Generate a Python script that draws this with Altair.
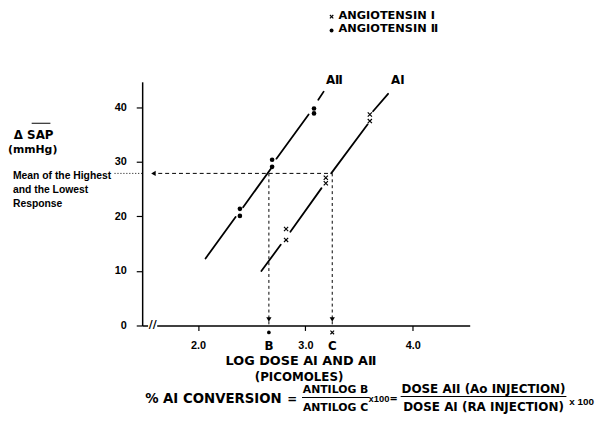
import altair as alt
import pandas as pd

# ---------------- data ----------------
# Angiotensin II responses (dots)
aii_x = [2.39, 2.39, 2.69, 2.69, 3.08, 3.08]
aii_y = [21.4, 20.1, 30.4, 29.1, 39.8, 38.9]
# Angiotensin I responses (crosses)
ai_x = [2.82, 2.82, 3.19, 3.19, 3.60, 3.60]
ai_y = [17.7, 15.7, 27.1, 26.1, 38.7, 37.5]

# dose-response line pieces (broken around the points)
aii_seg_x0 = [2.07, 2.42, 2.73, 3.12]
aii_seg_y0 = [12.3, 21.7, 30.6, 41.4]
aii_seg_x1 = [2.35, 2.68, 3.03, 3.17]
aii_seg_y1 = [19.9, 28.8, 38.7, 42.9]
ai_seg_x0 = [2.59, 2.86, 3.24, 3.63]
ai_seg_y0 = [10.0, 17.2, 27.9, 39.3]
ai_seg_x1 = [2.77, 3.15, 3.58, 3.77]
ai_seg_y1 = [14.8, 25.2, 36.9, 42.5]

log_b = 2.66
log_c = 3.25
mean_response = 27.9
guide_start = 1.63
arrow_left_x = 1.585
break_x = 1.578

x_ticks = [2.0, 3.0, 4.0]
y_ticks = [0, 10, 20, 30, 40]
x_domain = [1.48, 4.53]
y_domain = [0, 44.7]

line_labels = ["A\u2161", "A\u2160"]
line_label_x = [3.27, 3.86]
line_label_y = [45.1, 45.1]

XMARK = "M-1,-1L1,1M-1,1L1,-1"

# ---------------- tables ----------------
pts_aii = pd.DataFrame({"x": aii_x, "y": aii_y})
pts_ai = pd.DataFrame({"x": ai_x, "y": ai_y})
segs = pd.DataFrame({
    "x0": aii_seg_x0 + ai_seg_x0,
    "y0": aii_seg_y0 + ai_seg_y0,
    "x1": aii_seg_x1 + ai_seg_x1,
    "y1": aii_seg_y1 + ai_seg_y1,
})
vref = pd.DataFrame({"x": [log_b, log_c], "y": [mean_response] * 2, "y0": [0, 0],
                     "ya": [1.1, 1.1], "lab": ["B", "C"]})
href = pd.DataFrame({"x0": [guide_start], "x1": [log_c], "y": [mean_response],
                     "xa": [arrow_left_x]})
brk = pd.DataFrame({"x0": [1.535], "x1": [1.62], "y": [0], "xb": [break_x]})
lbl = pd.DataFrame({"x": line_label_x, "y": line_label_y, "t": line_labels})
one = pd.DataFrame({"a": [0]})

xs = alt.Scale(domain=x_domain, nice=False, zero=False)
ys = alt.Scale(domain=y_domain, nice=False, zero=False)
common = dict(title=None, grid=False, domainColor="black", domainWidth=1.5,
              tickColor="black", tickWidth=1.2, labelColor="black",
              labelFont="Liberation Sans", labelFontSize=11, labelFontWeight="bold")
xaxis = alt.Axis(values=x_ticks, format=".1f", tickSize=5, labelPadding=9, **common)
yaxis = alt.Axis(values=y_ticks, tickSize=6, labelPadding=10, **common)


def X(f):
    return alt.X(f, type="quantitative", scale=xs, axis=xaxis)


def Y(f):
    return alt.Y(f, type="quantitative", scale=ys, axis=yaxis)


def label(text, x, y, size=12, font="DejaVu Sans", weight="bold", align="center"):
    return alt.Chart(one).mark_text(
        text=text, fontSize=size, font=font, fontWeight=weight, align=align,
        baseline="middle", color="black"
    ).encode(x=alt.value(x), y=alt.value(y))


def hbar(x0, x1, y, w=1.2):
    return alt.Chart(one).mark_rule(color="black", strokeWidth=w).encode(
        x=alt.value(x0), x2=alt.value(x1), y=alt.value(y))


lines = alt.Chart(segs).mark_rule(color="black", strokeWidth=1.8, strokeCap="round").encode(
    x=X("x0"), y=Y("y0"), x2="x1", y2="y1")
dots = alt.Chart(pts_aii).mark_point(shape="circle", filled=True, size=22, color="black",
                                     opacity=1).encode(x=X("x"), y=Y("y"))
crosses = alt.Chart(pts_ai).mark_point(shape=XMARK, filled=False, size=18, strokeWidth=1.2,
                                       color="black", opacity=1).encode(x=X("x"), y=Y("y"))

vlines = alt.Chart(vref).mark_rule(color="black", strokeWidth=1, strokeDash=[3, 3]).encode(
    x=X("x"), y=Y("y"), y2="y0")
varrows = alt.Chart(vref).mark_point(shape="triangle-down", filled=True, size=28,
                                     color="black", opacity=1).encode(x=X("x"), y=Y("ya"))
hline = alt.Chart(href).mark_rule(color="black", strokeWidth=1, strokeDash=[4, 3]).encode(
    x=X("x0"), x2="x1", y=Y("y"))
hdots = alt.Chart(href).mark_rule(color="black", strokeWidth=1, strokeDash=[1, 2]).encode(
    x=alt.value(-28), x2=alt.value(0), y=Y("y"))
harrow = alt.Chart(href).mark_point(shape="triangle-left", filled=True, size=28,
                                    color="black", opacity=1).encode(x=X("xa"), y=Y("y"))
brk_white = alt.Chart(brk).mark_rule(color="white", strokeWidth=4).encode(
    x=X("x0"), x2="x1", y=Y("y"))
brk_text = alt.Chart(brk).mark_text(text="//", fontSize=11, font="DejaVu Sans",
                                    fontWeight="bold", color="black").encode(
    x=X("xb"), y=Y("y"))

b_dot = alt.Chart(vref.iloc[[0]]).mark_point(shape="circle", filled=True, size=14,
                                             color="black", opacity=1).encode(
    x=X("x"), y=alt.value(254))
c_cross = alt.Chart(vref.iloc[[1]]).mark_point(shape=XMARK, filled=False, size=14,
                                               strokeWidth=1.1, color="black",
                                               opacity=1).encode(
    x=X("x"), y=alt.value(254))
bc_text = alt.Chart(vref).mark_text(fontSize=12, font="DejaVu Sans", fontWeight="bold",
                                    color="black").encode(
    x=X("x"), y=alt.value(268), text="lab:N")
line_text = alt.Chart(lbl).mark_text(fontSize=12, font="DejaVu Sans", fontWeight="bold",
                                     color="black").encode(
    x=X("x"), y=Y("y"), text="t:N")

# legend (drawn as text at the top right)
legend = [
    alt.Chart(one).mark_point(shape=XMARK, filled=False, size=12, strokeWidth=1.1,
                              color="black", opacity=1).encode(
        x=alt.value(192), y=alt.value(-66)),
    alt.Chart(one).mark_point(shape="circle", filled=True, size=16, color="black",
                              opacity=1).encode(x=alt.value(192), y=alt.value(-52)),
    label("ANGIOTENSIN \u2160", 199, -67, size=11.5, align="left"),
    label("ANGIOTENSIN \u2161", 199, -53, size=11.5, align="left"),
]

ytitle = [
    label("\u0394 SAP", -110, 54, size=12),
    hbar(-112, -93, 42, w=1),
    label("(mmHg)", -111, 69, size=11),
    label("Mean of the Highest", -131, 96, size=10.5, font="Liberation Sans", align="left"),
    label("and the Lowest", -131, 110, size=10.5, font="Liberation Sans", align="left"),
    label("Response", -131, 124, size=10.5, font="Liberation Sans", align="left"),
]

xtitle = [
    label("LOG DOSE A\u2160 AND A\u2161", 161, 283, size=13),
    label("(PICOMOLES)", 159, 299, size=12),
]

formula = [
    label("% AI CONVERSION", 3, 322, size=13.5, align="left"),
    label("=", 152, 322, size=12),
    label("ANTILOG B", 196, 312, size=11),
    hbar(162, 230, 320, w=1.2),
    label("ANTILOG C", 196, 331, size=11),
    label("x100", 240, 322, size=9.5, font="Liberation Sans"),
    label("=", 255, 322, size=10),
    label("DOSE AII (Ao INJECTION)", 346, 311, size=12.1),
    hbar(262, 430, 319, w=1.2),
    label("DOSE AI (RA INJECTION)", 346, 330, size=12.1),
    label("x 100", 433, 325, size=10, font="Liberation Sans", align="left"),
]

chart = alt.layer(
    lines, vlines, hline, hdots, brk_white, brk_text, harrow, varrows,
    dots, crosses, b_dot, c_cross, bc_text, line_text,
    *legend, *ytitle, *xtitle, *formula
).properties(
    width=332, height=247,
    padding={"left": 136, "top": 72, "right": 127, "bottom": 95},
    autosize="none",
).configure_view(stroke=None)

chart.save("out.html", embed_options={"renderer": "svg", "actions": False})
